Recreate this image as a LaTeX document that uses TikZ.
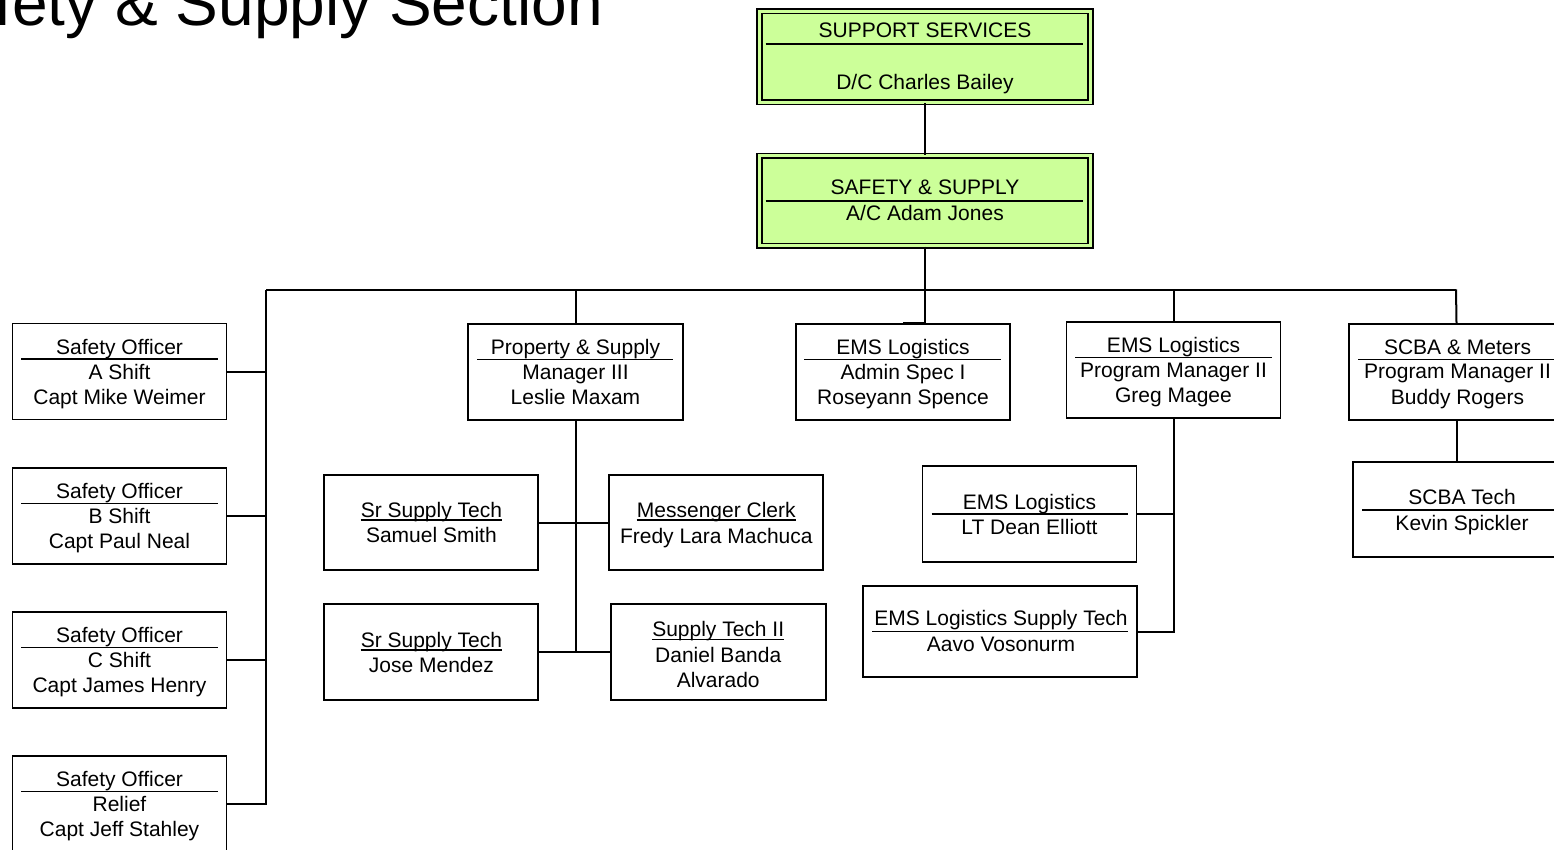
\documentclass[tikz,border=0pt]{standalone}
\usepackage{fontspec}
\setmainfont{Liberation Sans}
\definecolor{boxgreen}{HTML}{CCFF99}
\tikzset{
  box/.style={draw, line width=1.9pt, inner sep=0pt, minimum width=214pt, minimum height=96pt},
  gbox/.style={draw, fill=boxgreen, double=boxgreen, double distance=3pt, line width=1.7pt, inner sep=0pt, minimum width=331pt, minimum height=91pt},
  txt/.style={inner sep=0pt, anchor=base, font=\fontsize{21}{25}\selectfont},
  conn/.style={line width=2pt},
  sepline/.style={line width=1.5pt},
  uline/.style={line width=1.3pt},
}
\begin{document}
\begin{tikzpicture}[x=1pt,y=-1pt]
\path[use as bounding box] (0,0) rectangle (1554,850);
\clip (0,0) rectangle (1554,850);

% title
\node[inner sep=0pt, anchor=base east, font=\fontsize{64}{72}\selectfont] (title) at (603,26) {Safety \& Supply Section};

% boxes
\node[gbox] (sup) at (925,56.7) {};
\node[gbox, minimum height=90pt] (saf) at (925,200.8) {};

\node[box] (soA) at (119.5,371.5) {};
\node[box] (soB) at (119.5,516) {};
\node[box] (soC) at (119.5,660) {};
\node[box] (soR) at (119.5,804) {};

\node[box, minimum width=215pt] (prop) at (575.5,372) {};
\node[box] (adm) at (903,372) {};
\node[box, minimum height=95.4pt] (pm) at (1173.5,370) {};
\node[box, minimum width=215pt] (scba) at (1456.5,372) {};

\node[box, minimum height=95pt] (sam) at (431.4,522.5) {};
\node[box, minimum height=95pt] (msg) at (716.3,522.5) {};
\node[box] (jose) at (431.4,652) {};
\node[box, minimum width=215pt] (st2) at (718.2,652) {};

\node[box] (lt) at (1029.5,514) {};
\node[box, minimum width=273.4pt, minimum height=91.3pt] (est) at (1000,631.7) {};
\node[box, minimum width=215pt, minimum height=95.6pt] (scbt) at (1460.5,509.5) {};

% connectors
\coordinate (busL) at (266,289.5);
\coordinate (busR) at (1456,289.5);
\draw[conn] (sup.south) -- (saf.north);
\draw[conn] (saf.south) -- (saf.south |- busL);
\draw[conn] (busL) -- (busR);
\draw[conn] (busL) -- (busL |- soR.east) -- (soR.east);
\draw[conn] (soA.east) -- (soA.east -| busL);
\draw[conn] (soB.east) -- (soB.east -| busL);
\draw[conn] (soC.east) -- (soC.east -| busL);
\draw[conn] (prop.north |- busL) -- (prop.north);
\draw[conn] (saf.south |- busL) -- (saf.south |- adm.north) -- (adm.north);
\draw[conn] (pm.north |- busL) -- (pm.north);
\draw[conn] (busR) -- (scba.north);
\draw[conn] (prop.south) -- (prop.south |- jose.east);
\draw[conn] (sam.east) -- (msg.west);
\draw[conn] (jose.east) -- (st2.west);
\draw[conn] (pm.south) -- (pm.south |- est.east) -- (est.east);
\draw[conn] (lt.east) -- (lt.east -| pm.south);
\draw[conn] (scba.south) -- (scba.south |- scbt.north);

% texts: support services
\node[txt] (supT) at (925,37.3) {SUPPORT SERVICES};
\draw[sepline] (765.7,44) -- (1083.3,44);
\node[txt] (supN) at (925,89.3) {D/C Charles Bailey};
\node[txt] (safT) at (925,194.3) {SAFETY \& SUPPLY};
\draw[sepline] (765.7,201) -- (1083.3,201);
\node[txt] (safN) at (925,220.7) {A/C Adam Jones};

% safety officers
\node[txt] (soAt) at (119.5,354) {Safety Officer};
\draw[sepline] (21,359) -- (218,359);
\node[txt] (soAs) at (119.5,379) {A Shift};
\node[txt] (soAn) at (119.5,404) {Capt Mike Weimer};

\node[txt] (soBt) at (119.5,498.5) {Safety Officer};
\draw[sepline] (21,503.5) -- (218,503.5);
\node[txt] (soBs) at (119.5,523.5) {B Shift};
\node[txt] (soBn) at (119.5,548.5) {Capt Paul Neal};

\node[txt] (soCt) at (119.5,642.5) {Safety Officer};
\draw[sepline] (21,647.5) -- (218,647.5);
\node[txt] (soCs) at (119.5,667.5) {C Shift};
\node[txt] (soCn) at (119.5,692.5) {Capt James Henry};

\node[txt] (soRt) at (119.5,786.5) {Safety Officer};
\draw[sepline] (21,791.5) -- (218,791.5);
\node[txt] (soRs) at (119.5,811.5) {Relief};
\node[txt] (soRn) at (119.5,836.5) {Capt Jeff Stahley};

% property
\node[txt] (propT) at (575.5,354) {Property \& Supply};
\draw[sepline] (477.3,359.3) -- (673.3,359.3);
\node[txt] (propS) at (575.5,379.3) {Manager III};
\node[txt] (propN) at (575.5,404) {Leslie Maxam};

% ems admin
\node[txt] (admT) at (903,354) {EMS Logistics};
\draw[sepline] (804.3,359.3) -- (1001,359.3);
\node[txt] (admS) at (903,379.3) {Admin Spec I};
\node[txt] (admN) at (903,404) {Roseyann Spence};

% ems pm
\node[txt] (pmT) at (1173.5,352.3) {EMS Logistics};
\draw[sepline] (1075,357.7) -- (1271.7,357.7);
\node[txt] (pmS) at (1173.5,377.3) {Program Manager II};
\node[txt] (pmN) at (1173.5,402.3) {Greg Magee};

% scba
\node[txt] (scbaT) at (1457.5,354.3) {SCBA \& Meters};
\draw[sepline] (1358.3,359.3) -- (1560,359.3);
\node[txt] (scbaS) at (1457.5,378.3) {Program Manager II};
\node[txt] (scbaN) at (1457.5,404) {Buddy Rogers};

% supply techs
\node[txt] (samT) at (431.4,517.3) {Sr Supply Tech};
\draw[uline] ([yshift=-2.7pt]samT.base west) -- ([yshift=-2.7pt]samT.base east);
\node[txt] (samN) at (431.4,542.7) {Samuel Smith};

\node[txt] (joseT) at (431.4,647.3) {Sr Supply Tech};
\draw[uline] ([yshift=-2.7pt]joseT.base west) -- ([yshift=-2.7pt]joseT.base east);
\node[txt] (joseN) at (431.4,672.3) {Jose Mendez};

\node[txt] (msgT) at (716.3,517.3) {Messenger Clerk};
\draw[uline] ([yshift=-2.7pt]msgT.base west) -- ([yshift=-2.7pt]msgT.base east);
\node[txt] (msgN) at (716.3,543) {Fredy Lara Machuca};

\node[txt] (st2T) at (718.2,636.7) {Supply Tech II};
\draw[uline] ([yshift=-2.7pt]st2T.base west) -- ([yshift=-2.7pt]st2T.base east);
\node[txt] (st2N) at (718.2,662.3) {Daniel Banda};
\node[txt] (st2M) at (718.2,687.7) {Alvarado};

% ems lt and supply tech
\node[txt] (ltT) at (1029.5,509) {EMS Logistics};
\draw[sepline] (931.7,514) -- (1127.7,514);
\node[txt] (ltN) at (1029.5,534) {LT Dean Elliott};

\node[txt] (estT) at (1001,625.7) {EMS Logistics Supply Tech};
\draw[sepline] (872.3,631.7) -- (1128.3,631.7);
\node[txt] (estN) at (1001,651.7) {Aavo Vosonurm};

% scba tech
\node[txt] (scbtT) at (1462,504) {SCBA Tech};
\draw[sepline] (1362.3,510) -- (1560,510);
\node[txt] (scbtN) at (1462,530) {Kevin Spickler};
\end{tikzpicture}
\end{document}
